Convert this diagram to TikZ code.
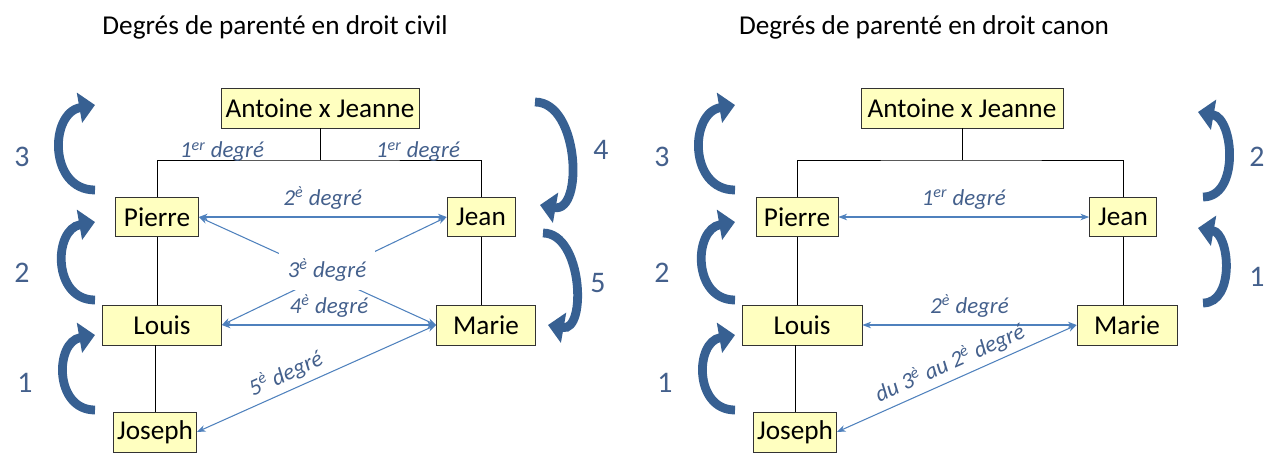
\documentclass[tikz,border=0pt]{standalone}
\usepackage{fontspec}
\setmainfont{Carlito}
\usetikzlibrary{arrows.meta}
\definecolor{boxfill}{RGB}{255,255,192}
\definecolor{arrblue}{RGB}{79,129,189}
\definecolor{arrdark}{RGB}{55,96,146}
\definecolor{txtblue}{RGB}{68,96,140}
\tikzset{
  person/.style={draw=black!80, fill=boxfill, inner sep=0pt, font=\fontsize{15.5}{18}\selectfont},
  link/.style={black, line width=0.5pt},
  deg/.style={arrblue, line width=0.6pt, {Stealth[length=5pt]}-{Stealth[length=5pt]}},
  lab/.style={txtblue, font=\itshape\fontsize{13}{15}\selectfont, inner sep=1pt},
  bigstep/.style={arrdark, line width=5pt, -{Triangle[length=9pt,width=17pt]}},
  num/.style={txtblue, font=\fontsize{17}{19}\selectfont},
  title/.style={font=\fontsize{15.5}{18}\selectfont}
}
\begin{document}
\begin{tikzpicture}[x=0.02cm,y=-0.02cm]
  \useasboundingbox (0,0) rectangle (1280,464);
  % civil
  \node[title] (tc) at (275,27) {Degrés de parenté en droit civil};
  \node[person, minimum width=198*0.02cm, minimum height=40*0.02cm] (a1) at (320,108) {Antoine x Jeanne};
  \node[person, minimum width=83*0.02cm, minimum height=39*0.02cm] (p1) at (157,217) {Pierre};
  \node[person, minimum width=68*0.02cm, minimum height=39*0.02cm] (j1) at (481,217) {Jean};
  \node[person, minimum width=119*0.02cm, minimum height=40*0.02cm] (l1) at (162,325) {Louis};
  \node[person, minimum width=99*0.02cm, minimum height=40*0.02cm] (m1) at (486,325) {Marie};
  \node[person, minimum width=83*0.02cm, minimum height=40*0.02cm] (o1) at (155,432) {Joseph};
  \draw[link] (a1.south) |- (320,160) coordinate (k1);
  \draw[link] (p1.north) |- (k1) -| (j1.north);
  \draw[link] (p1.south) -- (p1.south |- l1.north);
  \draw[link] (l1.south -| o1.north) -- (o1.north);
  \draw[link] (j1.south) -- (j1.south |- m1.north);
  \node[lab] at (222,152) {1\textsuperscript{er} degré};
  \node[lab] at (418,152) {1\textsuperscript{er} degré};
  \draw[deg] (p1.east) -- (j1.west) node[lab, midway, above=3pt] {2\textsuperscript{è} degré};
  \draw[deg] (p1.east) -- (m1.west);
  \draw[deg] (l1.east) -- (j1.west);
  \node[lab, fill=white, inner sep=5pt] at (327,270) {3\textsuperscript{è} degré};
  \draw[deg] (l1.east) -- (m1.west) node[lab, midway, above=3pt] {4\textsuperscript{è} degré};
  \draw[deg] (o1.east) -- (m1.west) node[lab, pos=0.4, above=2pt, sloped] {5\textsuperscript{è} degré};
  \draw[bigstep] (95,190) to[out=180, in=190, looseness=1.4] (95,105);
  \draw[bigstep] (95,300) to[out=180, in=190, looseness=1.4] (95,222);
  \draw[bigstep] (95,410) to[out=180, in=190, looseness=1.4] (95,335);
  \draw[bigstep] (535,102) to[out=0, in=-10, looseness=1.1] (540,205);
  \draw[bigstep] (543,233) to[out=0, in=-10, looseness=1.1] (548,325);
  \node[num] at (22,157) {3};
  \node[num] at (22,273) {2};
  \node[num] at (25,383) {1};
  \node[num] at (601,150) {4};
  \node[num] at (598,283) {5};
  % canon
  \node[title] (tk) at (924,27) {Degrés de parenté en droit canon};
  \node[person, minimum width=202*0.02cm, minimum height=40*0.02cm] (a2) at (962,108) {Antoine x Jeanne};
  \node[person, minimum width=82*0.02cm, minimum height=39*0.02cm] (p2) at (797,217) {Pierre};
  \node[person, minimum width=67*0.02cm, minimum height=39*0.02cm] (j2) at (1123,217) {Jean};
  \node[person, minimum width=120*0.02cm, minimum height=40*0.02cm] (l2) at (802,325) {Louis};
  \node[person, minimum width=100*0.02cm, minimum height=40*0.02cm] (m2) at (1127,325) {Marie};
  \node[person, minimum width=83*0.02cm, minimum height=40*0.02cm] (o2) at (795,432) {Joseph};
  \draw[link] (a2.south) |- (962,160) coordinate (k2);
  \draw[link] (p2.north) |- (k2) -| (j2.north);
  \draw[link] (p2.south) -- (p2.south |- l2.north);
  \draw[link] (l2.south -| o2.north) -- (o2.north);
  \draw[link] (j2.south) -- (j2.south |- m2.north);
  \draw[deg] (p2.east) -- (j2.west) node[lab, midway, above=3pt] {1\textsuperscript{er} degré};
  \draw[deg] (l2.east) -- (m2.west) node[lab, midway, above=3pt] {2\textsuperscript{è} degré};
  \draw[deg] (o2.east) -- (m2.west) node[lab, pos=0.5, above=2pt, sloped] {du 3\textsuperscript{è} au 2\textsuperscript{è} degré};
  \draw[bigstep] (735,190) to[out=180, in=190, looseness=1.4] (735,105);
  \draw[bigstep] (735,300) to[out=180, in=190, looseness=1.4] (735,222);
  \draw[bigstep] (735,410) to[out=180, in=190, looseness=1.4] (735,335);
  \draw[bigstep] (1203,197) to[out=0, in=-10, looseness=1.1] (1198,112);
  \draw[bigstep] (1203,303) to[out=0, in=-10, looseness=1.1] (1198,228);
  \node[num] at (662,157) {3};
  \node[num] at (662,273) {2};
  \node[num] at (665,383) {1};
  \node[num] at (1257,157) {2};
  \node[num] at (1257,277) {1};
\end{tikzpicture}
\end{document}
